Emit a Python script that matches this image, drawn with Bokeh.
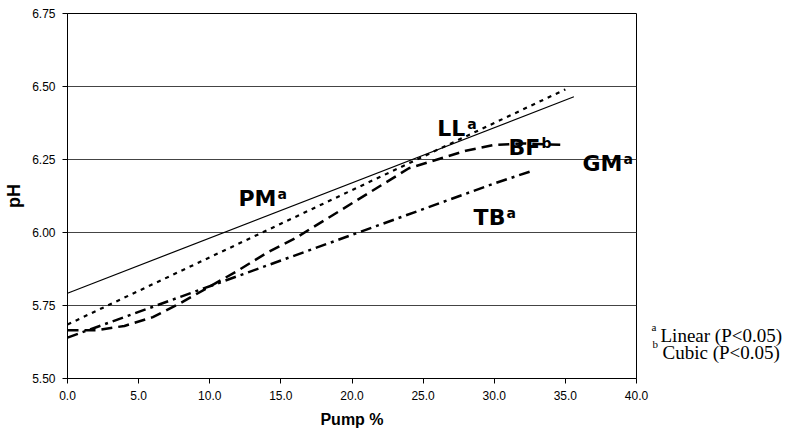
from bokeh.plotting import figure
from bokeh.layouts import row
from bokeh.models import Range1d, FixedTicker, NumeralTickFormatter, Label
from bokeh.core.properties import value
from bokeh.embed import file_html
from bokeh.resources import INLINE

# ---- data ----
pm_x = [0.0, 35.6]
pm_y = [5.792, 6.465]

ll_x = [0.0, 5.0, 10.0, 15.0, 20.0, 25.0, 30.0, 35.0]
ll_y = [5.685, 5.80, 5.915, 6.03, 6.145, 6.26, 6.375, 6.49]

bf_x = [0.0, 2.0, 4.0, 6.0, 8.0, 10.0, 12.0, 14.0, 16.0, 18.0, 20.0, 22.0, 24.0, 26.0, 28.0, 30.0, 32.0, 34.7]
bf_y = [5.665, 5.665, 5.68, 5.71, 5.76, 5.815, 5.87, 5.93, 5.98, 6.04, 6.10, 6.16, 6.22, 6.25, 6.28, 6.30, 6.305, 6.30]

tb_x = [0.0, 5.0, 10.0, 15.0, 20.0, 25.0, 30.0, 32.6]
tb_y = [5.64, 5.728, 5.816, 5.904, 5.992, 6.08, 6.168, 6.21]

y_ticks = [5.50, 5.75, 6.00, 6.25, 6.50, 6.75]
x_ticks = [0, 5, 10, 15, 20, 25, 30, 35, 40]

series_names = ["PM", "LL", "BF", "GM", "TB"]
series_sups = ["a", "a", "b", "a", "a"]
footnote_marks = ["a", "b"]
footnote_texts = ["Linear (P<0.05)", "Cubic (P<0.05)"]

# ---- main figure ----
p = figure(width=650, height=436, output_backend="svg", toolbar_location=None,
           x_range=Range1d(0, 40), y_range=Range1d(5.5, 6.75),
           min_border_left=67, min_border_right=14, min_border_top=13, min_border_bottom=58)
p.background_fill_color = "white"
p.border_fill_color = "white"
p.outline_line_color = "black"
p.outline_line_width = 1

p.xgrid.visible = False
p.ygrid.ticker = FixedTicker(ticks=y_ticks)
p.ygrid.grid_line_color = "#444444"
p.ygrid.grid_line_width = 1

p.yaxis.ticker = FixedTicker(ticks=y_ticks)
p.yaxis.formatter = NumeralTickFormatter(format="0.00")
p.xaxis.ticker = FixedTicker(ticks=x_ticks)
p.xaxis.formatter = NumeralTickFormatter(format="0.0")
for ax in (p.xaxis, p.yaxis):
    ax.axis_line_color = "black"
    ax.major_tick_line_color = "black"
    ax.major_tick_out = 5
    ax.major_tick_in = 0
    ax.minor_tick_line_color = None
    ax.major_label_text_font = "Liberation Sans"
    ax.major_label_text_font_size = "12px"
    ax.major_label_text_color = "black"
    ax.axis_label_text_font = "Liberation Sans"
    ax.axis_label_text_font_style = "bold"
    ax.axis_label_text_color = "black"
p.yaxis.major_label_standoff = 7
p.xaxis.major_label_standoff = 7
p.xaxis.axis_label = "Pump %"
p.xaxis.axis_label_text_font_size = "16px"
p.xaxis.axis_label_standoff = 8
p.yaxis.axis_label = "pH"
p.yaxis.axis_label_text_font_size = "18px"
p.yaxis.axis_label_standoff = 5

# ---- lines ----
p.line(pm_x, pm_y, line_color="black", line_width=1.2)
p.line(ll_x, ll_y, line_color="black", line_width=2.2, line_dash="4 5")
p.line(bf_x, bf_y, line_color="black", line_width=2.5, line_dash="11 6")
p.line(tb_x, tb_y, line_color="black", line_width=2.5, line_dash="11 5 3 5")

# ---- series labels ----
lab_x = [12.02, 26.0, 31.0, 36.2, 28.55]
lab_y = [6.115, 6.355, 6.29, 6.235, 6.05]
lab_w = [38, 29, 32, 40, 32]
p.text(x=lab_x, y=lab_y, text=series_names, text_font=value("DejaVu Sans"),
       text_font_style="bold", text_font_size="22px", text_color="black",
       text_baseline="alphabetic", text_align="left")
for xx, yy, w, s in zip(lab_x, lab_y, lab_w, series_sups):
    p.add_layout(Label(x=xx, y=yy, x_offset=w + 1, y_offset=5, text=s,
                       text_font="DejaVu Sans", text_font_style="bold",
                       text_font_size="14px", text_color="black",
                       text_baseline="alphabetic", text_align="left"))

# ---- footnote panel (frame is aligned with the main frame: pixel rows 13..378) ----
f = figure(width=136, height=436, output_backend="svg", toolbar_location=None,
           x_range=Range1d(0, 136), y_range=Range1d(378, 13),
           x_axis_location=None, y_axis_location=None,
           min_border_left=0, min_border_right=0, min_border_top=13, min_border_bottom=58)
f.grid.visible = False
f.outline_line_color = None
f.background_fill_color = "white"
f.border_fill_color = "white"
mark_x = [1, 2]
mark_y = [326, 343]
txt_x = [10, 12]
txt_y = [335, 352]
f.text(x=mark_x, y=mark_y, text=footnote_marks, text_font=value("Liberation Serif"),
       text_font_size="11px", text_color="black", text_baseline="alphabetic")
f.text(x=txt_x, y=txt_y, text=footnote_texts, text_font=value("Liberation Serif"),
       text_font_size="19px", text_color="black", text_baseline="alphabetic")

layout = row(p, f, spacing=0)
open("out.html", "w").write(file_html(layout, INLINE))
